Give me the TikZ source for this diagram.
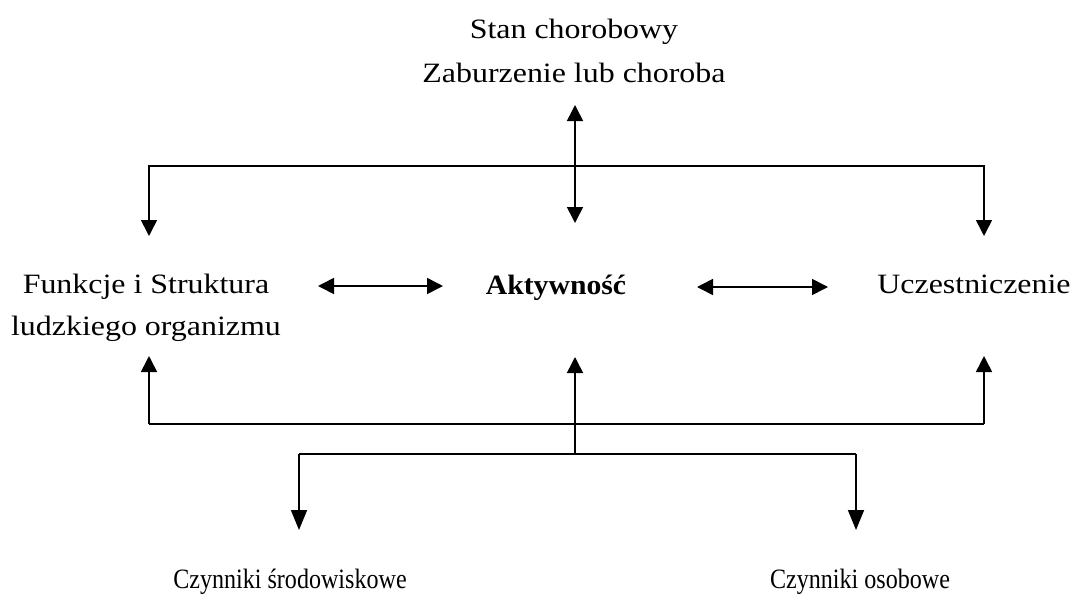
\documentclass[tikz,border=0pt]{standalone}
\usepackage{fontspec}
\setmainfont{Liberation Serif}
\newfontfamily\widefont{Liberation Serif}[FakeStretch=1.14]
\newfontfamily\aktfont{Liberation Serif}[FakeStretch=1.06]
\newfontfamily\narrowfont{Liberation Serif}[FakeStretch=0.86]
\usetikzlibrary{arrows.meta}
\begin{document}
\begin{tikzpicture}[x=1pt,y=-1pt,
  lbl/.style={inner sep=0pt, align=center, font=\fontsize{28}{44}\selectfont\widefont},
  conn/.style={line width=1.6pt},
  arr/.style={conn, -{Triangle[length=16pt,width=16pt]}},
  longarr/.style={conn, -{Triangle[length=20pt,width=16pt]}},
  darr/.style={conn, {Triangle[length=16pt,width=16pt]}-{Triangle[length=16pt,width=16pt]}}]
\useasboundingbox (0,0) rectangle (1073,600);
% texts
\node[lbl] (stan) at (574,51) {Stan chorobowy\\Zaburzenie lub choroba};
\node[lbl, font=\fontsize{28}{42}\selectfont\widefont] (funk) at (146,308) {Funkcje i Struktura\\ludzkiego organizmu};
\node[lbl, anchor=base, font=\fontsize{28}{42}\selectfont\aktfont\bfseries] (akt) at (556,294) {Aktywność};
\node[lbl, anchor=base] (ucz) at (974,293) {Uczestniczenie};
\node[lbl, anchor=base, font=\fontsize{28}{42}\selectfont\narrowfont] (srod) at (290,588) {Czynniki środowiskowe};
\node[lbl, anchor=base, font=\fontsize{28}{42}\selectfont\narrowfont] (osob) at (860,588) {Czynniki osobowe};
% top coordinates
\coordinate (ttop) at (575,105);
\coordinate (tj) at (575,166);
\coordinate (tbot) at (575,223);
\coordinate (tl) at (149,166);
\coordinate (tr) at (984,166);
\coordinate (tlend) at (149,236);
\coordinate (trend) at (984,236);
% middle double arrows
\coordinate (ml1) at (318,286);
\coordinate (ml2) at (443,286);
\coordinate (mr1) at (697,287);
\coordinate (mr2) at (828,287);
% bottom
\coordinate (bl) at (149,424);
\coordinate (br) at (984,424);
\coordinate (bltip) at (149,356);
\coordinate (bctip) at (575,357);
\coordinate (brtip) at (984,356);
\coordinate (bj) at (575,454);
\coordinate (bjl) at (299,454);
\coordinate (bjr) at (856,454);
\coordinate (bjltip) at (299,530);
\coordinate (bjrtip) at (856,530);
% top
\draw[darr] (ttop) -- (tbot);
\draw[arr] (tj) -- (tl) -- (tlend);
\draw[arr] (tj) -- (tr) -- (trend);
% middle
\draw[darr] (ml1) -- (ml2);
\draw[darr] (mr1) -- (mr2);
% bottom
\draw[conn] (bl) -- (br);
\draw[arr] (bl) -- (bltip);
\draw[arr] (br) -- (brtip);
\draw[arr] (bj) -- (bctip);
\draw[conn] (bjl) -- (bjr);
\draw[longarr] (bjl) -- (bjltip);
\draw[longarr] (bjr) -- (bjrtip);
\end{tikzpicture}
\end{document}
